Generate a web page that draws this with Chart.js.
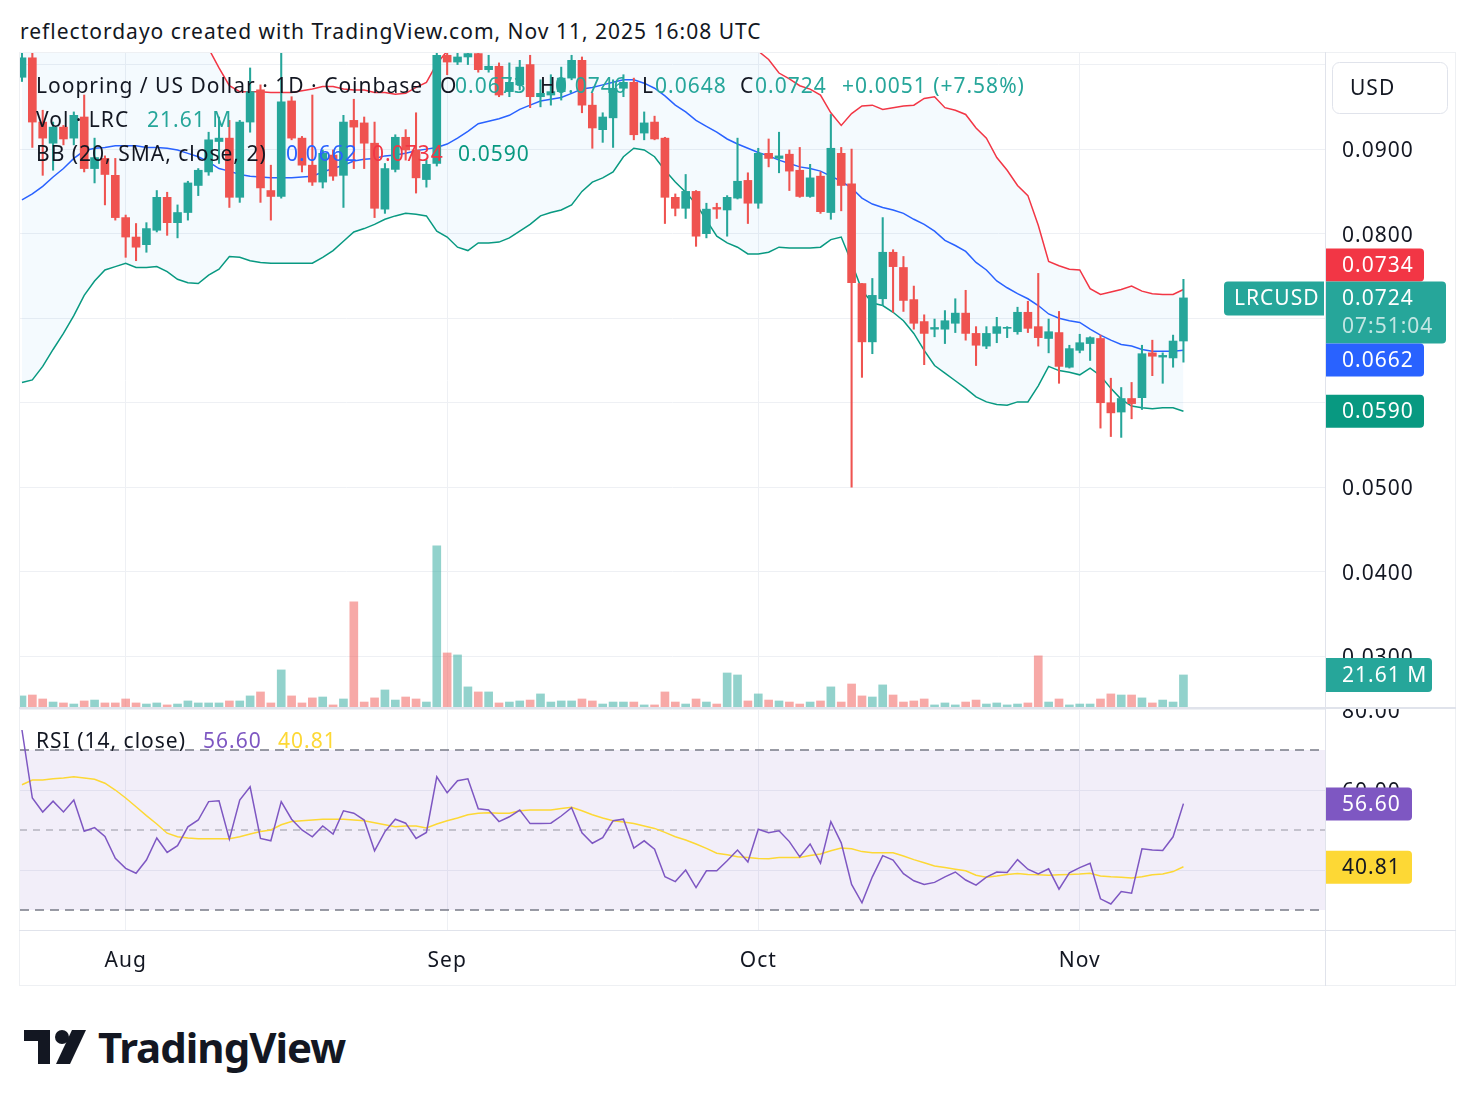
<!DOCTYPE html>
<html>
<head>
<meta charset="utf-8">
<script src="https://cdn.jsdelivr.net/npm/chart.js@4.4.1/dist/chart.umd.min.js"></script>
<style>
  body { margin: 0; background: #fff; width: 1476px; height: 1106px; position: relative; overflow: hidden;
         font-family: 'Noto Sans', sans-serif; color: #131722; letter-spacing: 1px; }
  .abs { position: absolute; white-space: nowrap; }
  canvas { position: absolute; }
  #title { left: 20px; top: 16px; font-size: 21px; line-height: 30px; }
  .leg { font-size: 21px; line-height: 26px; }
  .line { position: absolute; background: #e0e3eb; }
  #brand { left: 98px; top: 1020px; font-size: 42px; font-weight: 700; line-height: 54px; letter-spacing: -1px; }
</style>
</head>
<body>
<div id="title" class="abs">reflectordayo created with TradingView.com, Nov 11, 2025 16:08 UTC</div>

<canvas id="priceChart" width="1436" height="655" style="left:20px;top:53px;width:1436px;height:655px"></canvas>
<canvas id="rsiChart" width="1436" height="277" style="left:20px;top:709px;width:1436px;height:277px"></canvas>

<!-- legends -->
<div class="abs leg" style="left:36px;top:72px">Loopring / US Dollar · 1D · Coinbase</div>
<div class="abs leg" style="left:440px;top:72px">O</div>
<div class="abs leg" style="left:455px;top:72px;color:#26a69a">0.0673</div>
<div class="abs leg" style="left:540px;top:72px">H</div>
<div class="abs leg" style="left:555px;top:72px;color:#26a69a">0.0746</div>
<div class="abs leg" style="left:642px;top:72px">L</div>
<div class="abs leg" style="left:655px;top:72px;color:#26a69a">0.0648</div>
<div class="abs leg" style="left:740px;top:72px">C</div>
<div class="abs leg" style="left:755px;top:72px;color:#26a69a">0.0724</div>
<div class="abs leg" style="left:842px;top:72px;color:#26a69a">+0.0051 (+7.58%)</div>

<div class="abs leg" style="left:36px;top:106px">Vol · LRC</div>
<div class="abs leg" style="left:147px;top:106px;color:#26a69a">21.61 M</div>

<div class="abs leg" style="left:36px;top:140px">BB (20, SMA, close, 2)</div>
<div class="abs leg" style="left:286px;top:140px;color:#2962ff">0.0662</div>
<div class="abs leg" style="left:372px;top:140px;color:#f23645">0.0734</div>
<div class="abs leg" style="left:458px;top:140px;color:#089981">0.0590</div>

<div class="abs leg" style="left:36px;top:727px">RSI (14, close)</div>
<div class="abs leg" style="left:203px;top:727px;color:#7e57c2">56.60</div>
<div class="abs leg" style="left:278px;top:727px;color:#fdd835">40.81</div>

<!-- frame -->
<div class="line" style="left:19px;top:52px;width:1437px;height:1px;background:#eef0f3"></div>
<div class="line" style="left:19px;top:52px;width:1px;height:934px;background:#eef0f3"></div>
<div class="line" style="left:1455px;top:52px;width:1px;height:934px;background:#eef0f3"></div>
<div class="line" style="left:19px;top:985px;width:1437px;height:1px;background:#eef0f3"></div>
<div class="line" style="left:1325px;top:52px;width:1px;height:934px"></div>
<div class="line" style="left:19px;top:707px;width:1437px;height:2px"></div>
<div class="line" style="left:19px;top:930px;width:1437px;height:1px"></div>

<!-- logo -->
<svg class="abs" style="left:22px;top:1028px" width="66" height="38" viewBox="0 0 66 38">
  <path d="M2 2 H28 V36 H16 V13 H2 Z" fill="#131722"/>
  <circle cx="40" cy="9" r="7" fill="#131722"/>
  <path d="M50 2 H64 L48 36 H34 Z" fill="#131722"/>
</svg>
<div id="brand" class="abs">TradingView</div>

<script>
const firstDay = '2025-07-22';
const monthNames = ['Aug', 'Sep', 'Oct', 'Nov'];

const openPrices = [
  0.0985, 0.1008, 0.0932, 0.0907, 0.0926, 0.0913, 0.0938, 0.0877, 0.0889, 0.0869,
  0.0819, 0.0796, 0.0787, 0.0804, 0.0843, 0.0813, 0.0825, 0.0857, 0.0873, 0.0909,
  0.0913, 0.0843, 0.0932, 0.0970, 0.0851, 0.0844, 0.0957, 0.0913, 0.0881, 0.0861,
  0.0893, 0.0869, 0.0934, 0.0931, 0.0907, 0.0829, 0.0876, 0.0914, 0.0899, 0.0864,
  0.0883, 0.1011, 0.1003, 0.1009, 0.1013, 0.0994, 0.0998, 0.0968, 0.0976, 0.1000,
  0.0962, 0.0964, 0.0968, 0.0984, 0.1005, 0.0952, 0.0923, 0.0937, 0.0972, 0.0979,
  0.0919, 0.0932, 0.0913, 0.0843, 0.0830, 0.0850, 0.0800, 0.0831, 0.0828, 0.0842,
  0.0863, 0.0836, 0.0895, 0.0889, 0.0894, 0.0875, 0.0844, 0.0868, 0.0825, 0.0895,
  0.0859, 0.0741, 0.0672, 0.0723, 0.0778, 0.0760, 0.0722, 0.0696, 0.0687, 0.0687,
  0.0694, 0.0706, 0.0682, 0.0667, 0.0682, 0.0688, 0.0684, 0.0707, 0.0690, 0.0676,
  0.0683, 0.0642, 0.0662, 0.0670, 0.0676, 0.0600, 0.0589, 0.0605, 0.0606, 0.0659,
  0.0654, 0.0653, 0.0673
];
const highPrices = [
  0.1015, 0.1017, 0.0946, 0.0932, 0.0928, 0.0944, 0.0964, 0.0913, 0.0892, 0.0889,
  0.0822, 0.0812, 0.0813, 0.0851, 0.0849, 0.0834, 0.0862, 0.0877, 0.0920, 0.0938,
  0.0934, 0.0934, 0.0996, 0.0976, 0.0881, 0.1015, 0.0962, 0.0915, 0.0964, 0.0899,
  0.0899, 0.0940, 0.0959, 0.0938, 0.0932, 0.0883, 0.0917, 0.0923, 0.0943, 0.0887,
  0.1023, 0.1030, 0.1017, 0.1030, 0.1020, 0.1011, 0.1002, 0.1002, 0.1005, 0.1011,
  0.0982, 0.0988, 0.0997, 0.1011, 0.1009, 0.0966, 0.0943, 0.0982, 0.0988, 0.0984,
  0.0944, 0.0939, 0.0914, 0.0847, 0.0870, 0.0851, 0.0836, 0.0836, 0.0845, 0.0913,
  0.0872, 0.0901, 0.0912, 0.0920, 0.0899, 0.0902, 0.0882, 0.0873, 0.0941, 0.0902,
  0.0900, 0.0741, 0.0747, 0.0819, 0.0781, 0.0773, 0.0738, 0.0704, 0.0699, 0.0709,
  0.0723, 0.0733, 0.0690, 0.0690, 0.0701, 0.0690, 0.0713, 0.0720, 0.0753, 0.0699,
  0.0708, 0.0668, 0.0681, 0.0678, 0.0680, 0.0629, 0.0618, 0.0624, 0.0668, 0.0674,
  0.0659, 0.0680, 0.0746
];
const lowPrices = [
  0.0980, 0.0902, 0.0869, 0.0875, 0.0905, 0.0905, 0.0873, 0.0860, 0.0834, 0.0816,
  0.0772, 0.0768, 0.0778, 0.0802, 0.0798, 0.0795, 0.0816, 0.0845, 0.0869, 0.0883,
  0.0831, 0.0837, 0.0920, 0.0837, 0.0816, 0.0842, 0.0911, 0.0873, 0.0857, 0.0854,
  0.0863, 0.0831, 0.0877, 0.0877, 0.0819, 0.0824, 0.0873, 0.0887, 0.0848, 0.0855,
  0.0880, 0.0988, 0.1000, 0.1000, 0.0991, 0.0991, 0.0962, 0.0962, 0.0970, 0.0949,
  0.0950, 0.0952, 0.0958, 0.0982, 0.0943, 0.0901, 0.0908, 0.0902, 0.0962, 0.0911,
  0.0911, 0.0911, 0.0812, 0.0821, 0.0818, 0.0785, 0.0795, 0.0818, 0.0797, 0.0841,
  0.0812, 0.0830, 0.0879, 0.0872, 0.0851, 0.0843, 0.0843, 0.0824, 0.0817, 0.0827,
  0.0500, 0.0630, 0.0658, 0.0715, 0.0707, 0.0708, 0.0687, 0.0645, 0.0678, 0.0670,
  0.0683, 0.0674, 0.0644, 0.0664, 0.0671, 0.0677, 0.0681, 0.0683, 0.0667, 0.0659,
  0.0623, 0.0641, 0.0659, 0.0650, 0.0570, 0.0560, 0.0559, 0.0581, 0.0592, 0.0632,
  0.0623, 0.0642, 0.0648
];
const closePrices = [
  0.1008, 0.0932, 0.0913, 0.0926, 0.0912, 0.0940, 0.0877, 0.0890, 0.0870, 0.0819,
  0.0796, 0.0784, 0.0806, 0.0843, 0.0813, 0.0825, 0.0860, 0.0875, 0.0911, 0.0913,
  0.0843, 0.0932, 0.0968, 0.0854, 0.0844, 0.0956, 0.0913, 0.0881, 0.0861, 0.0895,
  0.0868, 0.0932, 0.0926, 0.0907, 0.0830, 0.0877, 0.0914, 0.0899, 0.0866, 0.0882,
  0.1011, 0.1003, 0.1009, 0.1013, 0.0994, 0.0998, 0.0964, 0.0979, 0.0997, 0.0962,
  0.0966, 0.0968, 0.0984, 0.1005, 0.0952, 0.0925, 0.0938, 0.0972, 0.0979, 0.0917,
  0.0931, 0.0912, 0.0843, 0.0830, 0.0850, 0.0797, 0.0829, 0.0829, 0.0843, 0.0862,
  0.0836, 0.0895, 0.0889, 0.0892, 0.0874, 0.0844, 0.0866, 0.0826, 0.0901, 0.0857,
  0.0742, 0.0672, 0.0727, 0.0778, 0.0761, 0.0721, 0.0694, 0.0682, 0.0689, 0.0697,
  0.0706, 0.0682, 0.0668, 0.0682, 0.0690, 0.0689, 0.0707, 0.0688, 0.0677, 0.0684,
  0.0643, 0.0664, 0.0671, 0.0677, 0.0600, 0.0588, 0.0605, 0.0599, 0.0658, 0.0655,
  0.0656, 0.0673, 0.0724
];
// volume in millions of LRC
const volumes = [
  7.9, 8.5, 5.9, 3.9, 3.3, 2.6, 4.6, 5.2, 3.3, 3.3,
  5.9, 3.3, 2.6, 3.3, 2.0, 2.6, 4.6, 3.3, 3.3, 3.3,
  4.6, 4.6, 7.9, 10.5, 3.3, 24.9, 7.9, 3.3, 6.6, 7.2,
  2.0, 5.9, 69.4, 3.9, 6.6, 11.8, 5.2, 7.2, 5.9, 3.9,
  106.0, 36.0, 34.7, 13.8, 10.5, 10.5, 3.3, 3.9, 4.6, 5.2,
  9.2, 3.9, 4.6, 4.6, 5.9, 4.6, 2.6, 3.9, 3.9, 3.9,
  2.0, 2.0, 10.5, 3.9, 2.6, 5.9, 3.9, 2.6, 22.9, 21.6,
  4.6, 9.2, 5.2, 4.6, 3.9, 2.6, 3.9, 4.6, 13.8, 3.9,
  15.7, 7.9, 7.2, 15.1, 8.5, 3.9, 4.6, 5.9, 2.0, 3.3,
  2.0, 3.9, 5.2, 2.6, 3.3, 2.0, 2.6, 3.3, 34.1, 3.9,
  5.9, 2.0, 2.6, 2.6, 5.9, 9.2, 8.5, 8.5, 6.6, 3.3,
  5.2, 3.9, 21.61
];
const bbUpper = [
  0.1056, 0.1067, 0.1069, 0.1071, 0.1072, 0.1075, 0.1069, 0.1058, 0.1047, 0.1047,
  0.1043, 0.1048, 0.1044, 0.1043, 0.1047, 0.1052, 0.1048, 0.1041, 0.1019, 0.0996,
  0.0975, 0.0968, 0.0968, 0.0968, 0.0967, 0.0967, 0.0967, 0.0969, 0.0971, 0.0974,
  0.0974, 0.0971, 0.0970, 0.0970, 0.0967, 0.0967, 0.0965, 0.0966, 0.0973, 0.0979,
  0.1001, 0.1016, 0.1042, 0.1062, 0.1071, 0.1077, 0.1082, 0.1085, 0.1091, 0.1093,
  0.1093, 0.1093, 0.1094, 0.1098, 0.1092, 0.1085, 0.1086, 0.1085, 0.1073, 0.1063,
  0.1057, 0.1053, 0.1051, 0.1043, 0.1039, 0.1033, 0.1038, 0.1043, 0.1035, 0.1028,
  0.1026, 0.1016, 0.1006, 0.0990, 0.0983, 0.0975, 0.0971, 0.0964, 0.0943, 0.0928,
  0.0942, 0.0951, 0.0952, 0.0947, 0.0949, 0.0951, 0.0952, 0.0960, 0.0962, 0.0949,
  0.0946, 0.0941, 0.0925, 0.0913, 0.0890, 0.0875, 0.0857, 0.0845, 0.0810, 0.0767,
  0.0762, 0.0758, 0.0757, 0.0735, 0.0728, 0.0731, 0.0734, 0.0738, 0.0732, 0.0729,
  0.0728, 0.0728, 0.0734
];
const bbBasis = [
  0.0840, 0.0847, 0.0856, 0.0867, 0.0877, 0.0889, 0.0898, 0.0901, 0.0902, 0.0904,
  0.0904, 0.0904, 0.0902, 0.0902, 0.0901, 0.0899, 0.0895, 0.0891, 0.0885, 0.0877,
  0.0874, 0.0870, 0.0868, 0.0867, 0.0866, 0.0866, 0.0866, 0.0867, 0.0868, 0.0873,
  0.0877, 0.0881, 0.0886, 0.0888, 0.0889, 0.0892, 0.0893, 0.0895, 0.0898, 0.0900,
  0.0902, 0.0906, 0.0913, 0.0921, 0.0930, 0.0933, 0.0936, 0.0940, 0.0947, 0.0952,
  0.0957, 0.0959, 0.0961, 0.0966, 0.0971, 0.0973, 0.0976, 0.0979, 0.0982, 0.0982,
  0.0978, 0.0972, 0.0963, 0.0952, 0.0944, 0.0934, 0.0927, 0.0920, 0.0912, 0.0906,
  0.0901, 0.0896, 0.0892, 0.0887, 0.0883, 0.0879, 0.0877, 0.0874, 0.0868, 0.0862,
  0.0854, 0.0842, 0.0835, 0.0831, 0.0828, 0.0824, 0.0817, 0.0811, 0.0803, 0.0792,
  0.0786, 0.0779, 0.0766, 0.0757, 0.0744, 0.0736, 0.0729, 0.0723, 0.0715, 0.0705,
  0.0700, 0.0697, 0.0695, 0.0687, 0.0680, 0.0674, 0.0669, 0.0667, 0.0663, 0.0661,
  0.0661, 0.0661, 0.0662
];
const bbLower = [
  0.0624, 0.0627, 0.0643, 0.0663, 0.0682, 0.0703, 0.0727, 0.0744, 0.0757, 0.0761,
  0.0765, 0.0760, 0.0760, 0.0761, 0.0755, 0.0746, 0.0742, 0.0741, 0.0751, 0.0758,
  0.0773, 0.0772, 0.0768, 0.0766, 0.0765, 0.0765, 0.0765, 0.0765, 0.0765, 0.0772,
  0.0780, 0.0791, 0.0802, 0.0806, 0.0811, 0.0817, 0.0821, 0.0824, 0.0823, 0.0821,
  0.0803, 0.0796, 0.0784, 0.0780, 0.0789, 0.0789, 0.0790, 0.0795, 0.0803, 0.0811,
  0.0821, 0.0825, 0.0828, 0.0834, 0.0850, 0.0861, 0.0866, 0.0873, 0.0891, 0.0901,
  0.0899, 0.0891, 0.0875, 0.0861, 0.0849, 0.0835, 0.0816, 0.0797, 0.0789, 0.0784,
  0.0776, 0.0776, 0.0778, 0.0784, 0.0783, 0.0783, 0.0783, 0.0784, 0.0793, 0.0796,
  0.0766, 0.0733, 0.0718, 0.0715, 0.0707, 0.0697, 0.0682, 0.0662, 0.0644, 0.0635,
  0.0626, 0.0617, 0.0607, 0.0601, 0.0598, 0.0597, 0.0601, 0.0601, 0.0620, 0.0643,
  0.0638, 0.0636, 0.0633, 0.0641, 0.0632, 0.0617, 0.0604, 0.0596, 0.0594, 0.0593,
  0.0594, 0.0594, 0.0590
];
const rsiValues = [
  75.0, 58.0, 54.5, 57.2, 54.5, 57.5, 49.7, 50.6, 48.4, 42.9,
  40.4, 39.2, 42.5, 48.0, 44.4, 46.1, 50.8, 52.5, 57.1, 57.3,
  47.7, 57.5, 60.8, 47.9, 47.3, 57.1, 52.7, 50.0, 48.3, 51.0,
  49.0, 54.8, 54.2, 52.5, 44.8, 49.6, 52.7, 51.7, 47.9, 49.4,
  63.3, 59.3, 62.3, 62.8, 55.3, 55.0, 52.1, 53.3, 55.0, 51.6,
  51.6, 51.7, 53.5, 55.6, 49.3, 46.7, 48.1, 52.3, 52.7, 45.5,
  47.3, 45.2, 38.3, 37.1, 40.0, 35.6, 39.8, 39.8, 42.3, 45.0,
  42.0, 50.2, 49.3, 49.8, 47.1, 43.3, 46.5, 41.7, 52.1, 46.8,
  36.4, 31.8, 38.3, 43.6, 42.5, 39.1, 37.3, 36.4, 36.9, 38.3,
  39.5, 37.5, 36.2, 38.2, 39.5, 39.4, 42.6, 40.2, 39.0, 40.3,
  35.2, 39.3, 40.6, 41.7, 32.8, 31.5, 34.6, 34.2, 45.3, 45.0,
  44.9, 48.3, 56.6
];
const rsiMaValues = [
  61.3, 62.5, 62.5, 62.8, 63.0, 63.3, 63.0, 62.7, 61.7, 60.0,
  58.0, 55.8, 53.6, 51.5, 49.2, 48.3, 48.0, 47.8, 47.8, 47.8,
  47.8, 48.3, 49.0, 49.6, 50.0, 51.3, 52.1, 52.3, 52.5, 52.7,
  52.7, 52.7, 52.5, 52.3, 51.8, 51.3, 50.8, 51.0, 51.0, 50.5,
  51.5, 52.3, 53.0, 53.8, 54.2, 54.3, 54.2, 54.2, 54.8, 55.0,
  55.0, 55.0, 55.4, 55.7, 54.8, 53.8, 53.0, 52.3, 52.0, 51.6,
  51.0, 50.4, 49.4, 48.3, 47.5, 46.5, 45.4, 44.2, 43.8, 43.3,
  43.1, 42.9, 42.8, 43.1, 43.1, 43.1, 43.6, 44.0, 44.8, 45.5,
  45.3, 44.6, 44.3, 44.3, 44.3, 43.5, 42.6, 41.8, 41.0, 40.6,
  40.2, 39.8, 38.7, 38.2, 38.5, 38.9, 39.1, 38.9, 38.8, 38.7,
  38.8, 38.9, 39.0, 39.2, 38.5, 38.3, 38.2, 38.0, 38.3, 38.8,
  39.0, 39.6, 40.81
];
const rsiLevels = { upper: 70, middle: 50, lower: 30 };
const countdown = '07:51:04';
const symbol = 'LRCUSD';

const family = "'Noto Sans', sans-serif";
Chart.defaults.font.family = family;
Chart.defaults.font.size = 21;
Chart.defaults.color = '#131722';

const green = '#26a69a';
const red = '#ef5350';
const gridColor = '#eef0f4';

const dates = openPrices.map((_, i) => {
  const d = new Date(firstDay + 'T00:00:00Z');
  d.setUTCDate(d.getUTCDate() + i);
  return d;
});
const monthStarts = dates.map((d, i) => d.getUTCDate() === 1 ? i : -1).filter(i => i >= 0);
const last = openPrices.length - 1;
const isUp = openPrices.map((o, i) => closePrices[i] >= o);
const candleColors = isUp.map(u => u ? green : red);
const volColors = isUp.map(u => u ? 'rgba(38,166,154,0.5)' : 'rgba(239,83,80,0.5)');
const pts = arr => arr.map((v, i) => ({ x: i, y: v }));

// visible range: a little before the first candle, empty space after the last one
const xMin = -0.19, xMax = 125.65;

function noPad(s) { s.paddingLeft = 0; s.paddingRight = 0; s.paddingTop = 0; s.paddingBottom = 0; }

// wider text like the original screenshot
const spacing = { id: 'spacing', beforeDraw(chart) { chart.ctx.letterSpacing = '1px'; } };

function tagPath(ctx, x, y, w, h, left) {
  const r = 4;
  ctx.beginPath();
  if (left) ctx.roundRect(x, y, w, h, [r, 0, 0, r]);
  else ctx.roundRect(x, y, w, h, [0, r, r, 0]);
}

function drawTag(ctx, x, y, w, h, bg, lines) {
  ctx.save();
  ctx.fillStyle = bg;
  tagPath(ctx, x, y, w, h, false);
  ctx.fill();
  ctx.font = `21px ${family}`;
  ctx.textBaseline = 'middle';
  lines.forEach(l => {
    ctx.fillStyle = l.color;
    ctx.fillText(l.text, x + 16, y + l.dy + 1);
  });
  ctx.restore();
}

const priceTags = {
  id: 'priceTags',
  afterDraw(chart) {
    const { ctx, chartArea: a, scales: { y, vol } } = chart;
    const x0 = a.right + 1;

    // USD currency box
    ctx.save();
    ctx.fillStyle = '#fff';
    ctx.strokeStyle = '#e0e3eb';
    ctx.lineWidth = 1;
    ctx.beginPath();
    ctx.roundRect(a.right + 7.5, 9.5, 115, 51, 7);
    ctx.fill();
    ctx.stroke();
    ctx.fillStyle = '#131722';
    ctx.font = `21px ${family}`;
    ctx.textBaseline = 'middle';
    ctx.fillText('USD', a.right + 25, 36);
    ctx.restore();

    // last price label with countdown, then BB labels pushed clear of it
    const yClose = y.getPixelForValue(closePrices[last]);
    const mainTop = yClose - 16.5, mainH = 62;
    let upTop = y.getPixelForValue(bbUpper[last]) - 16.5;
    if (upTop + 33 > mainTop) upTop = mainTop - 33;
    let basisTop = y.getPixelForValue(bbBasis[last]) - 16.5;
    if (basisTop < mainTop + mainH) basisTop = mainTop + mainH;
    const lowTop = y.getPixelForValue(bbLower[last]) - 16.5;

    drawTag(ctx, x0, upTop, 98, 33, '#f23645', [{ text: bbUpper[last].toFixed(4), color: '#fff', dy: 16.5 }]);
    drawTag(ctx, x0, mainTop, 120, mainH, green, [
      { text: closePrices[last].toFixed(4), color: '#fff', dy: 17 },
      { text: countdown, color: 'rgba(255,255,255,0.72)', dy: 45 }
    ]);
    drawTag(ctx, x0, basisTop, 98, 33, '#2962ff', [{ text: bbBasis[last].toFixed(4), color: '#fff', dy: 16.5 }]);
    drawTag(ctx, x0, lowTop, 98, 33, '#089981', [{ text: bbLower[last].toFixed(4), color: '#fff', dy: 16.5 }]);

    // symbol label left of the axis
    ctx.save();
    ctx.fillStyle = green;
    tagPath(ctx, a.right - 101, mainTop, 100, 34, true);
    ctx.fill();
    ctx.fillStyle = '#fff';
    ctx.font = `21px ${family}`;
    ctx.textBaseline = 'middle';
    ctx.fillText(symbol, a.right - 91, mainTop + 18);
    ctx.restore();

    // volume label
    const yVol = vol.getPixelForValue(volumes[last]);
    drawTag(ctx, x0, yVol - 17, 106, 34, green, [{ text: volumes[last].toFixed(2) + ' M', color: '#fff', dy: 17 }]);
  }
};

const rsiDecor = {
  id: 'rsiDecor',
  beforeDatasetsDraw(chart) {
    const { ctx, chartArea: a, scales: { y } } = chart;
    const yTop = y.getPixelForValue(rsiLevels.upper);
    const yMid = y.getPixelForValue(rsiLevels.middle);
    const yBot = y.getPixelForValue(rsiLevels.lower);
    ctx.save();
    ctx.fillStyle = 'rgba(126,87,194,0.1)';
    ctx.fillRect(a.left, yTop, a.width, yBot - yTop);
    ctx.lineWidth = 1.5;
    ctx.setLineDash([9, 6]);
    ctx.strokeStyle = '#787b86';
    [yTop, yBot].forEach(v => {
      ctx.beginPath(); ctx.moveTo(a.left, v); ctx.lineTo(a.right, v); ctx.stroke();
    });
    ctx.strokeStyle = 'rgba(120,123,134,0.5)';
    ctx.setLineDash([7, 6]);
    ctx.beginPath(); ctx.moveTo(a.left, yMid); ctx.lineTo(a.right, yMid); ctx.stroke();
    ctx.restore();
  },
  afterDraw(chart) {
    const { ctx, chartArea: a, scales: { y } } = chart;
    const r = rsiValues[last], m = rsiMaValues[last];
    drawTag(ctx, a.right + 1, y.getPixelForValue(r) - 16, 86, 33, '#7e57c2', [{ text: r.toFixed(2), color: '#fff', dy: 16.5 }]);
    drawTag(ctx, a.right + 1, y.getPixelForValue(m) - 16, 86, 33, '#fdd835', [{ text: m.toFixed(2), color: '#131722', dy: 16.5 }]);
  }
};

const xScale = (showLabels) => ({
  type: 'linear',
  min: xMin,
  max: xMax,
  offset: false,
  afterBuildTicks: s => { s.ticks = monthStarts.map(v => ({ value: v })); },
  afterFit: s => { s.height = showLabels ? 56 : 0; noPad(s); },
  grid: { color: gridColor, drawTicks: false, offset: false },
  border: { display: false },
  ticks: {
    display: showLabels,
    padding: 18,
    maxRotation: 0,
    autoSkip: false,
    callback: v => monthNames[monthStarts.indexOf(v)]
  }
});

new Chart(document.getElementById('priceChart'), {
  type: 'bar',
  data: {
    datasets: [
      { label: 'body', data: openPrices.map((o, i) => ({ x: i, y: [o, closePrices[i]] })),
        backgroundColor: candleColors, barThickness: 8, grouped: false, minBarLength: 1, order: 0 },
      { label: 'wick', data: lowPrices.map((l, i) => ({ x: i, y: [l, highPrices[i]] })),
        backgroundColor: candleColors, barThickness: 1.4, grouped: false, order: 1 },
      { type: 'line', label: 'upper', data: pts(bbUpper), borderColor: '#f23645', borderWidth: 1.5,
        pointRadius: 0, fill: false, order: 2 },
      { type: 'line', label: 'basis', data: pts(bbBasis), borderColor: '#2962ff', borderWidth: 1.5,
        pointRadius: 0, fill: false, order: 3 },
      { type: 'line', label: 'lower', data: pts(bbLower), borderColor: '#089981', borderWidth: 1.5,
        pointRadius: 0, fill: '-2', backgroundColor: 'rgba(33,150,243,0.05)', order: 4 },
      { label: 'volume', data: pts(volumes), yAxisID: 'vol', backgroundColor: volColors,
        barThickness: 8, grouped: false, order: 5 }
    ]
  },
  options: {
    responsive: false,
    animation: false,
    devicePixelRatio: 1,
    layout: { padding: 0 },
    plugins: { legend: { display: false }, tooltip: { enabled: false } },
    scales: {
      x: xScale(false),
      y: {
        position: 'right',
        min: 0.02389,
        max: 0.10137,
        afterFit: s => { s.width = 131; noPad(s); },
        grid: { color: gridColor, drawTicks: false },
        border: { display: false },
        // the top label sits under the currency box
        ticks: { stepSize: 0.01, includeBounds: false, padding: 17, labelOffset: 2,
                 callback: v => v > 0.095 ? '' : v.toFixed(4) }
      },
      vol: { display: false, min: 0, max: 428.3 }
    }
  },
  plugins: [spacing, priceTags]
});

new Chart(document.getElementById('rsiChart'), {
  type: 'line',
  data: {
    datasets: [
      { label: 'RSI', data: pts(rsiValues), borderColor: '#7e57c2', borderWidth: 1.5, pointRadius: 0, order: 0 },
      { label: 'RSI MA', data: pts(rsiMaValues), borderColor: '#fdd835', borderWidth: 1.5, pointRadius: 0, order: 1 }
    ]
  },
  options: {
    responsive: false,
    animation: false,
    devicePixelRatio: 1,
    layout: { padding: 0 },
    plugins: { legend: { display: false }, tooltip: { enabled: false } },
    scales: {
      x: xScale(true),
      y: {
        position: 'right',
        min: 25,
        max: 80.25,
        afterFit: s => { s.width = 131; noPad(s); },
        grid: { color: gridColor, drawTicks: false },
        border: { display: false },
        ticks: { stepSize: 20, includeBounds: false, padding: 17, labelOffset: 2, callback: v => v.toFixed(2) }
      }
    }
  },
  plugins: [spacing, rsiDecor]
});
</script>
</body>
</html>
